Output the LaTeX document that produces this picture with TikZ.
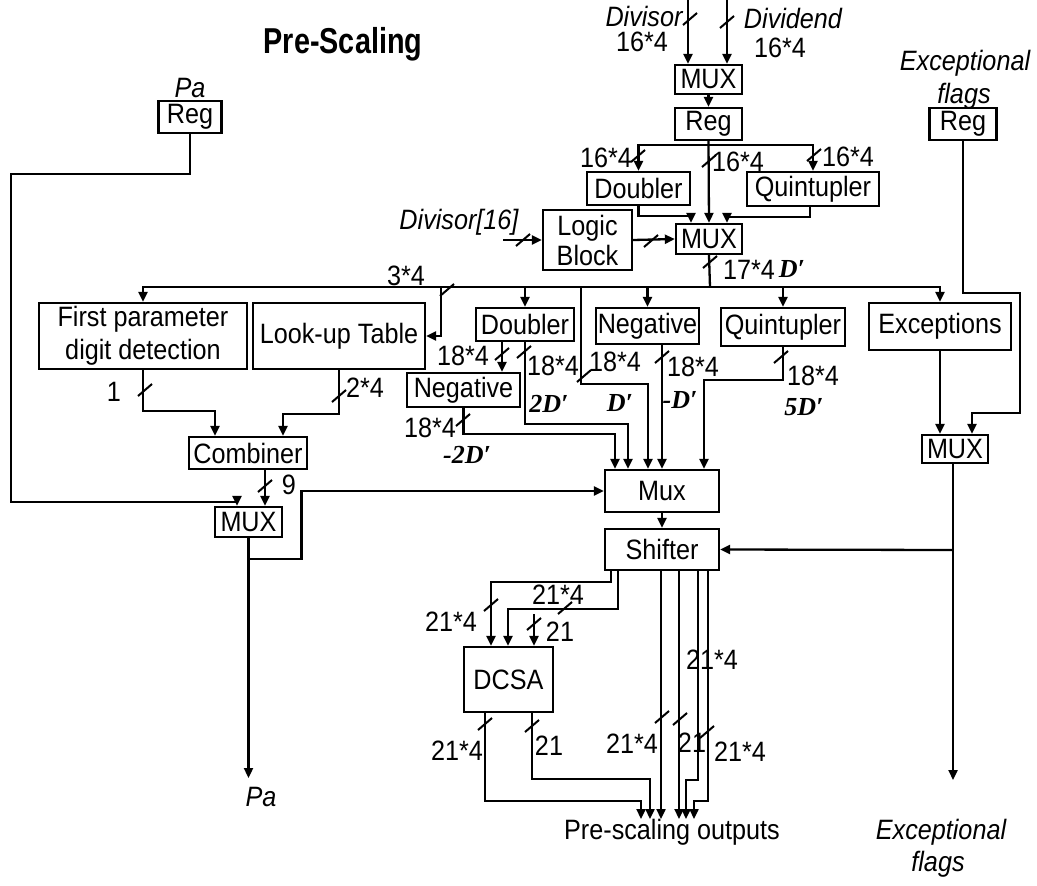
\documentclass[tikz,border=0pt]{standalone}
\usepackage{fontspec}
\setmainfont{Liberation Sans}[FakeStretch=0.9]
\newfontfamily\titlefont{Liberation Sans}[FakeStretch=0.8]
\newfontfamily\dfont{Liberation Serif}
\usetikzlibrary{arrows.meta}
\newcommand\mainsz{\fontsize{28}{31}\selectfont}
\newcommand\dsz{\fontsize{26}{30}\selectfont\dfont\bfseries\itshape}
\newcommand\bustick[1]{\draw[sl] (#1) +(-7,6) -- +(7,-6);}
\begin{document}
\begin{tikzpicture}[x=1pt,y=-1pt,
  box/.style={draw, line width=2.3pt, inner sep=0pt, font=\mainsz, align=center},
  line/.style={line width=2.3pt},
  conn/.style={line width=2.3pt, -{Triangle[length=10pt,width=9pt]}},
  lbl/.style={inner sep=0pt, font=\mainsz},
  ilbl/.style={inner sep=0pt, font=\mainsz\itshape},
  dlbl/.style={inner sep=0pt, font=\dsz},
  sl/.style={line width=2pt}]
\useasboundingbox (0,0) rectangle (1037,886);

% ---- texts
\node[inner sep=0pt, font=\fontsize{36}{40}\selectfont\titlefont\bfseries] (title) at (343,44) {Pre-Scaling};
\node[ilbl] (paLbl) at (190,88) {Pa};
\node[ilbl] (exLbl1) at (965,63) {Exceptional};
\node[ilbl] (exLbl2) at (964,96) {flags};
\node[ilbl] (divLbl) at (644,16) {Divisor};
\node[lbl] (div16) at (642,42) {16*4};
\node[ilbl] (dvdLbl) at (793,18) {Dividend};
\node[lbl] (dvd16) at (780,48) {16*4};
\node[ilbl] (d16Lbl) at (459,222) {Divisor[16]};

% ---- boxes
\node[box, minimum width=63, minimum height=32] (regPa) at (190,117) {Reg};
\node[box, minimum width=67, minimum height=32] (regEx) at (963,124) {Reg};
\node[box, minimum width=67, minimum height=29] (mux1) at (708.5,79.5) {MUX};
\node[box, minimum width=67, minimum height=32] (reg1) at (708.5,124) {Reg};
\node[box, minimum width=103, minimum height=33] (dbl1) at (638.5,188.5) {Doubler};
\node[box, minimum width=132, minimum height=34] (quin1) at (813,189) {Quintupler};
\node[box, minimum width=89, minimum height=60, font=\fontsize{28}{30}\selectfont] (logic) at (587.5,240) {Logic\\Block};
\node[box, minimum width=66, minimum height=30] (mux2) at (709,239) {MUX};
\node[box, minimum width=208, minimum height=66, font=\fontsize{28}{33}\selectfont] (fpd) at (143,336) {First parameter\\digit detection};
\node[box, minimum width=172, minimum height=66] (lut) at (339,336) {Look-up Table};
\node[box, minimum width=98, minimum height=33] (dbl2) at (525,324.5) {Doubler};
\node[box, minimum width=103, minimum height=36] (neg1) at (647.5,326) {Negative};
\node[box, minimum width=124, minimum height=38] (quin2) at (783,327) {Quintupler};
\node[box, minimum width=142, minimum height=47] (exc) at (940,326.5) {Exceptions};
\node[box, minimum width=113, minimum height=34] (neg2) at (463.5,390) {Negative};
\node[box, minimum width=118, minimum height=32] (comb) at (248,453) {Combiner};
\node[box, minimum width=67, minimum height=30] (mux3) at (248.5,522) {MUX};
\node[box, minimum width=114, minimum height=42] (muxm) at (662,491) {Mux};
\node[box, minimum width=66, minimum height=28] (exmux) at (955,449) {MUX};
\node[box, minimum width=114, minimum height=41] (shifter) at (662,549.5) {Shifter};
\node[box, minimum width=89, minimum height=65] (dcsa) at (508.5,679.5) {DCSA};

\node[lbl] (outLbl) at (672,832) {Pre-scaling outputs};
\node[ilbl] (paOut) at (261,797) {Pa};
\node[ilbl] (exOut1) at (941,832) {Exceptional};
\node[ilbl] (exOut2) at (938,864) {flags};

% ---- free ends
\coordinate (divIn) at (688,0);
\coordinate (dvdIn) at (727,0);
\coordinate (split1) at (709,145);
\coordinate (d16in) at (503,240);
\coordinate (bus) at (710,287);
\coordinate (lutx) at (441,287);
\coordinate (dpx) at (581,287);
\coordinate (paEnd) at (248.5,778);
\coordinate (exEnd) at (953,780);
\coordinate (cin) at (534,614);
\coordinate (outs) at (672,819);

% ---- top part
\draw[conn] (divIn) -- (divIn |- mux1.north);
\draw[conn] (dvdIn) -- (dvdIn |- mux1.north);
\draw[conn] (mux1.south) -- (reg1.north);
\draw[conn] (reg1.south) -- (mux2.north);
\draw[conn] (split1) -| (dbl1.north);
\draw[conn] (split1) -| (quin1.north);
\draw[conn] (dbl1.south) -- ++(0,10) -| ([xshift=-18]mux2.north);
\draw[conn] ([xshift=-3]quin1.south) -- ++(0,10) -| ([xshift=18]mux2.north);
\draw[conn] (d16in) -- (logic.west);
\draw[conn] (logic.east) -- (mux2.west);

% ---- bus
\draw[line] (mux2.south) -- (bus);
\draw[conn] (bus) -| (fpd.north);
\draw[conn] (bus) -| (exc.north);
\draw[conn] (dbl2.north |- bus) -- (dbl2.north);
\draw[conn] (neg1.north |- bus) -- (neg1.north);
\draw[conn] (quin2.north |- bus) -- (quin2.north);
\draw[conn] (lutx) |- (lut.east);
\draw[conn] (dpx) -- ++(0,97) -| ([xshift=-14]muxm.north);

% ---- middle
\draw[conn] ([xshift=-23]dbl2.south) -- ([xshift=-23]dbl2.south |- neg2.north);
\draw[conn] (dbl2.south) -- ++(0,82) -| ([xshift=-34]muxm.north);
\draw[conn] (neg2.south) -- ++(0,26) -| ([xshift=-47]muxm.north);
\draw[conn] (muxm.north |- neg1.south) -- (muxm.north);
\draw[conn] (quin2.south) -- ++(0,33) -| ([xshift=42]muxm.north);
\draw[conn] (muxm.south) -- (shifter.north);

% ---- left
\draw[conn] (regPa.south) |- (11,174) -- (11,502) -| ([xshift=-11.5]mux3.north);
\draw[conn] (fpd.south) -- ++(0,41) -| ([xshift=-33]comb.north);
\draw[conn] (lut.south) -- ++(0,44) -| ([xshift=35]comb.north);
\draw[conn] ([xshift=17]comb.south) -- ([xshift=17]comb.south |- mux3.north);
\draw[conn] (mux3.south) -- (paEnd);
\draw[conn] ([yshift=-21]mux3.south) -- ++(53,0) |- (muxm.west);

% ---- right
\draw[conn] (exc.south) -- (exc.south |- exmux.north);
\draw[conn] (regEx.south) |- (1020,293) -- (1020,413) -| ([xshift=17]exmux.north);
\draw[conn] ([xshift=-2]exmux.south) -- (exEnd);
\draw[conn] (953,550) -- (shifter.east);

% ---- shifter outputs
\draw[conn] ([xshift=-51]shifter.south) -- ++(0,11) -| ([xshift=-17.5]dcsa.north);
\draw[conn] ([xshift=-44]shifter.south) -- ++(0,38) -| ([xshift=-0.5]dcsa.north);
\draw[conn] (cin) -- (cin |- dcsa.north);
\draw[conn] ([xshift=-1]shifter.south) -- ([xshift=-1]shifter.south |- outs);
\draw[conn] ([xshift=17]shifter.south) -- ([xshift=17]shifter.south |- outs);
\draw[conn] ([xshift=36]shifter.south) -- ++(0,209) -| ([xshift=14]outs);
\draw[conn] ([xshift=46]shifter.south) -- ++(0,230) -| ([xshift=22]outs);
\draw[conn] ([xshift=-23.5]dcsa.south) -- ++(0,88) -| ([xshift=-31]outs);
\draw[conn] ([xshift=23.5]dcsa.south) -- ++(0,66) -| ([xshift=-22]outs);

% ---- bus-width ticks
\bustick{690,19} \bustick{727,22}
\bustick{638,156} \bustick{709,161} \bustick{814,155}
\bustick{523,240} \bustick{651,241} \bustick{710,262}
\bustick{447,290}
\bustick{145,390} \bustick{339,396} \bustick{265,486}
\bustick{502,354} \bustick{524,352} \bustick{584,376}
\bustick{463,420} \bustick{662,357} \bustick{781,357}
\bustick{491,605} \bustick{565,608} \bustick{534,624}
\bustick{485,724} \bustick{532,726}
\bustick{662,717} \bustick{680,719} \bustick{707,732}

% ---- width labels
\node[lbl] at (606,158) {16*4};
\node[lbl] at (738,162) {16*4};
\node[lbl] at (848,157) {16*4};
\node[lbl] at (749,270) {17*4};
\node[dlbl] at (792,269) {D′};
\node[lbl] at (406,276) {3*4};
\node[lbl] at (114,392) {1};
\node[lbl] at (365,388) {2*4};
\node[lbl] at (289,485) {9};
\node[lbl] at (463,356) {18*4};
\node[lbl] at (553,366) {18*4};
\node[dlbl] at (549,404) {2D′};
\node[lbl] at (430,428) {18*4};
\node[dlbl] at (467,455) {-2D′};
\node[lbl] at (615,362) {18*4};
\node[dlbl] at (620,403) {D′};
\node[lbl] at (693,367) {18*4};
\node[dlbl] at (680,400) {-D′};
\node[lbl] at (813,376) {18*4};
\node[dlbl] at (804,407) {5D′};
\node[lbl] at (451,622) {21*4};
\node[lbl] at (558,595) {21*4};
\node[lbl] at (560,632) {21};
\node[lbl] at (712,660) {21*4};
\node[lbl] at (457,751) {21*4};
\node[lbl] at (549,746) {21};
\node[lbl] at (632,744) {21*4};
\node[lbl] at (692,743) {21};
\node[lbl] at (740,752) {21*4};
\end{tikzpicture}
\end{document}
